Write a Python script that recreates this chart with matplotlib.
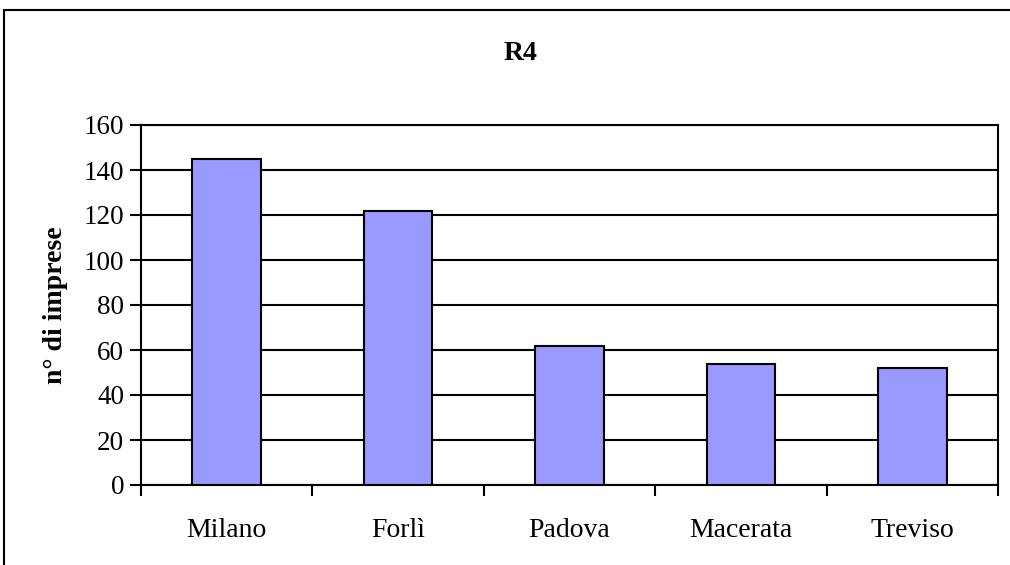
import matplotlib.pyplot as plt
from matplotlib.patches import Rectangle

cities = ['Milano', 'Forlì', 'Padova', 'Macerata', 'Treviso']
imprese = [145, 122, 62, 54, 52]
yticks = [0, 20, 40, 60, 80, 100, 120, 140, 160]

plt.rcParams['font.family'] = ['Liberation Serif', 'DejaVu Serif']

W, H = 1010, 565
fig = plt.figure(figsize=(W / 100, H / 100), dpi=100)
ax = fig.add_axes([141 / W, 1 - 485 / H, (998 - 141) / W, (485 - 125) / H])

x = range(len(cities))
ax.bar(x, imprese, width=0.4, color='#9999ff', edgecolor='black', linewidth=1.5, zorder=3)
ax.set_xlim(-0.5, len(cities) - 0.5)
ax.set_ylim(0, 160)
ax.set_yticks(yticks)
ax.set_yticklabels([str(v) for v in yticks], fontsize=19.5)
ax.yaxis.grid(True, color='black', linewidth=1.5, zorder=0)

# category labels centred, ticks between categories
ax.set_xticks([i - 0.5 for i in range(len(cities) + 1)])
ax.set_xticklabels([])
ax.set_xticks(list(x), minor=True)
ax.set_xticklabels(cities, minor=True, fontsize=20)
ax.tick_params(axis='x', which='minor', length=0, pad=24)
ax.tick_params(axis='x', which='major', length=8, width=1.5, direction='out')
ax.tick_params(axis='y', length=8, width=1.5, direction='out', pad=4)

for s in ax.spines.values():
    s.set_linewidth(1.5)

ax.set_ylabel('n° di imprese', fontsize=20, fontweight='bold', labelpad=11)
fig.text(520 / W, 1 - 53 / H, 'R4', fontsize=20, fontweight='bold', ha='center', va='center')

# outer chart frame (cropped at right and bottom)
fig.patches.append(Rectangle((4 / W, -0.1), 1.2, 1 - 10 / H + 0.1, transform=fig.transFigure,
                             fill=False, edgecolor='black', linewidth=1.5))

fig.savefig('out.png', dpi=100)
